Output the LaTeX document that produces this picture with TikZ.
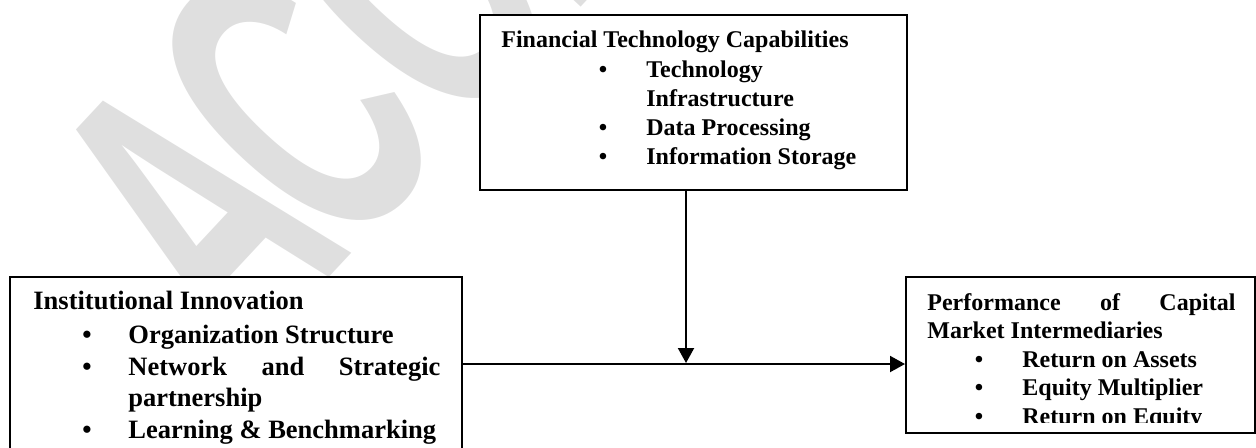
\documentclass[tikz,border=0pt]{standalone}
\usepackage{fontspec}
\setmainfont{Liberation Serif}
\newfontfamily\wmfont{Liberation Sans}
\usetikzlibrary{arrows.meta}
\definecolor{wmgray}{RGB}{223,223,223}

\begin{document}
\begin{tikzpicture}[x=0.5pt,y=-0.5pt,
  box/.style={draw=black, line width=1pt, fill=white, rectangle, inner sep=0pt},
  txt/.style={anchor=base west, inner sep=0pt, font=\bfseries\fontsize{12}{14}\selectfont},
  bigtxt/.style={anchor=base west, inner sep=0pt, font=\bfseries\fontsize{13.25}{16}\selectfont},
  dot/.style={anchor=base, inner sep=0pt, font=\bfseries\fontsize{12}{14}\selectfont},
  bigdot/.style={anchor=base, inner sep=0pt, font=\bfseries\fontsize{13.25}{16}\selectfont},
  arr/.style={line width=1pt, -{Triangle[length=7.5pt,width=8pt]}},
  stamp/.style={anchor=base west, inner sep=0pt, text=wmgray,
    font=\wmfont\bfseries\fontsize{207.5}{207.5}\selectfont},
]
\useasboundingbox (0,0) rectangle (1256,447);

% background stamp
\node[stamp, rotate=47, xscale=0.56] (stampA) at (241,372) {A\kern-18pt\relax CCEPTED};

% boxes
\node[box, minimum width=213.5pt, minimum height=87.5pt] (fin) at (693.5,102.5) {};
\node[box, minimum width=226pt, minimum height=96.5pt] (inst) at (236,373.5) {};
\node[box, minimum width=174.5pt, minimum height=78pt] (perf) at (1080.5,355) {};

% financial technology capabilities
\node[txt] (finT) at (501,47) {Financial Technology Capabilities};
\node[dot] (finB1) at (603,77) {•};
\node[txt] (finL1) at (646,77) {Technology};
\node[txt] (finL1b) at (646,106) {Infrastructure};
\node[dot] (finB2) at (603,135) {•};
\node[txt] (finL2) at (646,135) {Data Processing};
\node[dot] (finB3) at (603,164) {•};
\node[txt] (finL3) at (646,164) {Information Storage};

% institutional innovation
\node[bigtxt] (instT) at (33,309) {Institutional Innovation};
\node[bigdot] (instB1) at (87,343) {•};
\node[bigtxt] (instL1) at (128,343) {Organization Structure};
\node[bigdot] (instB2) at (87,375) {•};
\node[bigtxt] (instL2) at (128,375) {\hbox to 156pt{Network\hfill and\hfill Strategic}};
\node[bigtxt] (instL2b) at (128,406) {partnership};
\node[bigdot] (instB3) at (87,438) {•};
\node[bigtxt] (instL3) at (128,438) {Learning \& Benchmarking};

% performance of intermediaries (text cut off by the frame)
\begin{scope}
  \clip (906,277) rectangle (1255,422);
  \node[txt] (perfT) at (927,310) {\hbox to 154pt{Performance\hfill of\hfill Capital}};
  \node[txt] (perfT2) at (927,338.5) {Market Intermediaries};
  \node[dot] (perfB1) at (979,367) {•};
  \node[txt] (perfL1) at (1022,367) {Return on Assets};
  \node[dot] (perfB2) at (979,395.5) {•};
  \node[txt] (perfL2) at (1022,395.5) {Equity Multiplier};
  \node[dot] (perfB3) at (979,424) {•};
  \node[txt] (perfL3) at (1022,424) {Return on Equity};
\end{scope}

% connectors
\coordinate (join) at (686,364);
\draw[arr, shorten >=0.5pt] (join |- fin.south) -- (join);
\draw[arr] (inst.east |- join) -- (perf.west |- join);
\end{tikzpicture}
\end{document}
